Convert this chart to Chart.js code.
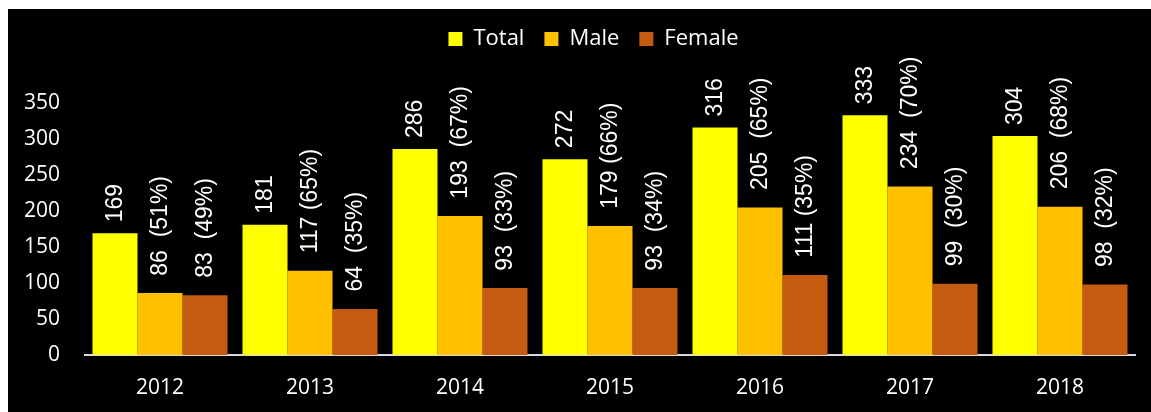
<!DOCTYPE html>
<html>
<head>
<meta charset="utf-8">
<script src="https://cdn.jsdelivr.net/npm/chart.js@4/dist/chart.umd.min.js"></script>
<style>
    html, body {
        margin: 0;
        padding: 0;
        background: #ffffff;
        width: 1151px;
        height: 412px;
        overflow: hidden;
    }
    .chart-panel {
        position: absolute;
        left: 8px;
        top: 9px;
        width: 1143px;
        height: 403px;
        background: #000000;
    }
</style>
</head>
<body>
<div class="chart-panel">
    <canvas id="genderChart" width="1143" height="403"></canvas>
</div>
<script>
const years = ["2012", "2013", "2014", "2015", "2016", "2017", "2018"];
const totalCounts = [169, 181, 286, 272, 316, 333, 304];
const maleCounts = [86, 117, 193, 179, 205, 234, 206];
const malePercents = [51, 65, 67, 66, 65, 70, 68];
const femaleCounts = [83, 64, 93, 93, 111, 99, 98];
const femalePercents = [49, 35, 33, 34, 35, 30, 32];
const yTicks = [0, 50, 100, 150, 200, 250, 300, 350];

const tickFont = { family: "'Open Sans', sans-serif", size: 21 };

// label text above each bar: count, and share of total for male/female
function withPercent(count, pct) {
    const gap = String(count).length > 2 && count < 190 ? " " : "  ";
    return ` ${count}${gap}(${pct}%)`;
}

const barLabels = [
    totalCounts.map((v) => String(v)),
    maleCounts.map((v, i) => withPercent(v, malePercents[i])),
    femaleCounts.map((v, i) => withPercent(v, femalePercents[i]))
];

// extra room under the legend, and nudge the legend up and to the right
const legendGap = {
    id: "legendGap",
    beforeInit(chart) {
        const fit = chart.legend.fit;
        chart.legend.fit = function () {
            fit.call(this);
            this.height += 38;
        };
    },
    afterLayout(chart) {
        chart.legend.left += 22;
        chart.legend.right += 22;
        chart.legend.top -= 5;
        chart.legend.bottom -= 5;
    }
};

// vertical value labels sitting on top of the bars
const verticalLabels = {
    id: "verticalLabels",
    afterDatasetsDraw(chart) {
        const ctx = chart.ctx;
        ctx.save();
        ctx.fillStyle = "#ffffff";
        ctx.font = "23px 'Liberation Sans', Arial, sans-serif";
        ctx.textAlign = "left";
        ctx.textBaseline = "middle";
        chart.data.datasets.forEach((ds, di) => {
            const meta = chart.getDatasetMeta(di);
            meta.data.forEach((bar, i) => {
                ctx.save();
                ctx.translate(bar.x + 1, bar.y - 11);
                ctx.rotate(-Math.PI / 2);
                ctx.fillText(barLabels[di][i], 0, 0);
                ctx.restore();
            });
        });
        ctx.restore();
    }
};

new Chart(document.getElementById("genderChart"), {
    type: "bar",
    data: {
        labels: years,
        datasets: [
            { label: "Total", data: totalCounts, backgroundColor: "#ffff00" },
            { label: "Male", data: maleCounts, backgroundColor: "#ffc000" },
            { label: "Female", data: femaleCounts, backgroundColor: "#c55a11" }
        ]
    },
    options: {
        responsive: false,
        animation: false,
        devicePixelRatio: 1,
        layout: {
            padding: { left: 0, right: 16, top: 4, bottom: 0 }
        },
        datasets: {
            bar: {
                categoryPercentage: 0.9,
                barPercentage: 1.0,
                borderWidth: 0
            }
        },
        plugins: {
            legend: {
                display: true,
                position: "top",
                labels: {
                    color: "#ffffff",
                    font: { family: "'Open Sans', sans-serif", size: 22 },
                    boxWidth: 14,
                    boxHeight: 14,
                    padding: 20
                }
            },
            tooltip: { enabled: false }
        },
        scales: {
            x: {
                grid: { display: false, drawTicks: false },
                border: { display: true, color: "#d9d9d9", width: 2 },
                ticks: {
                    color: "#ffffff",
                    font: tickFont,
                    padding: 20
                },
                afterFit: (scale) => { scale.height = 57; }
            },
            y: {
                min: 0,
                max: 350,
                grid: { display: false, drawTicks: false },
                border: { display: false },
                afterBuildTicks: (scale) => {
                    scale.ticks = yTicks.map((v) => ({ value: v }));
                },
                ticks: {
                    color: "#ffffff",
                    font: tickFont,
                    padding: 25
                },
                afterFit: (scale) => { scale.width = 77; }
            }
        }
    },
    plugins: [legendGap, verticalLabels]
});
</script>
</body>
</html>
